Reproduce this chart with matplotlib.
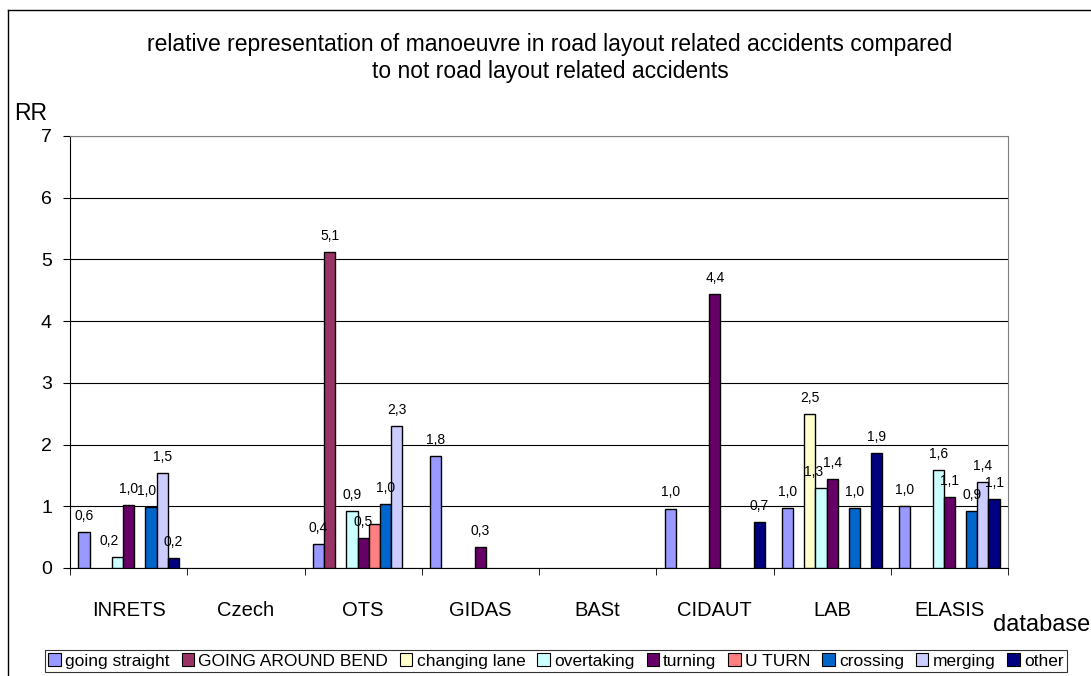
import matplotlib
matplotlib.use("Agg")
import matplotlib.pyplot as plt
from matplotlib.lines import Line2D
from matplotlib.patches import Patch
from matplotlib.transforms import offset_copy
import numpy as np

plt.rcParams['font.family'] = ['Liberation Sans', 'DejaVu Sans']

databases = ["INRETS", "Czech", "OTS", "GIDAS", "BASt", "CIDAUT", "LAB", "ELASIS"]
manoeuvres = ["going straight", "GOING AROUND BEND", "changing lane", "overtaking",
              "turning", "U TURN", "crossing", "merging", "other"]
colors = ["#9999FF", "#993366", "#FFFFCC", "#CCFFFF", "#660066",
          "#FF8080", "#0066CC", "#CCCCFF", "#000080"]

# relative representation per database (0 = not present)
going_straight = [0.58, 0, 0.39, 1.81, 0, 0.96, 0.97, 1.00]
going_around_bend = [0, 0, 5.12, 0, 0, 0, 0, 0]
changing_lane = [0, 0, 0, 0, 0, 0, 2.49, 0]
overtaking = [0.18, 0, 0.92, 0, 0, 0, 1.30, 1.59]
turning = [1.02, 0, 0.49, 0.34, 0, 4.44, 1.44, 1.15]
u_turn = [0, 0, 0.71, 0, 0, 0, 0, 0]
crossing = [0.99, 0, 1.04, 0, 0, 0, 0.97, 0.92]
merging = [1.54, 0, 2.30, 0, 0, 0, 0, 1.39]
other = [0.16, 0, 0, 0, 0, 0.74, 1.86, 1.12]

series = [going_straight, going_around_bend, changing_lane, overtaking,
          turning, u_turn, crossing, merging, other]
# series whose value labels are shown
labelled = [True, True, True, True, True, False, True, True, True]
# horizontal nudges (points) for crowded value labels: (series index, database index)
label_nudge = {(3, 0): -6, (6, 0): -3, (3, 6): -5}

W, H = 1091, 676
fig = plt.figure(figsize=(W / 100, H / 100), dpi=100)
ax = fig.add_axes([70 / W, 1 - 568 / H, 938 / W, 432 / H])

n = len(series)
bw = 1.0 / (n + 1.5)
x = np.arange(len(databases))
for i, (vals, c) in enumerate(zip(series, colors)):
    offs = -0.5 + 0.75 * bw + (i + 0.5) * bw
    for j, (xi, v) in enumerate(zip(x, vals)):
        if v <= 0:
            continue
        ax.bar(xi + offs, v, width=bw, color=c, edgecolor="black",
               linewidth=1.0, zorder=3)
        if labelled[i]:
            tr = offset_copy(ax.transData, fig=fig,
                             x=label_nudge.get((i, j), 0), y=0, units="points")
            ax.text(xi + offs, v + 0.15, f"{v:.1f}".replace(".", ","),
                    ha="center", va="bottom", fontsize=10, zorder=4,
                    transform=tr)

ax.set_xlim(-0.5, len(databases) - 0.5)
ax.set_ylim(0, 7)
ax.set_yticks(range(8))
ax.set_yticklabels([str(t) for t in range(8)], fontsize=14)
ax.yaxis.grid(True, color="black", linewidth=0.8, zorder=0)
ax.set_axisbelow(True)

ax.set_xticks(x)
ax.set_xticklabels(databases, fontsize=14.5)
ax.tick_params(axis="x", length=0, pad=24)
ax.set_xticks(np.arange(len(databases) + 1) - 0.5, minor=True)
ax.tick_params(axis="x", which="minor", length=5, direction="out", color="black")
ax.tick_params(axis="y", length=5, direction="out", pad=8)

for s in ["top", "right"]:
    ax.spines[s].set_color("#808080")
for s in ["left", "bottom"]:
    ax.spines[s].set_color("black")

fig.text(550 / W, 1 - 58 / H,
         "relative representation of manoeuvre in road layout related accidents compared\nto not road layout related accidents",
         ha="center", va="center", fontsize=16.5, linespacing=1.2)
fig.text(14 / W, 1 - 114 / H, "RR", ha="left", va="center", fontsize=16.5)
fig.text(993 / W, 1 - 625 / H, "database", ha="left", va="center", fontsize=17)

handles = [Patch(facecolor=c, edgecolor="black", linewidth=0.8) for c in colors]
leg = fig.legend(handles, manoeuvres, loc="center", ncol=9,
                 bbox_to_anchor=(556 / W, 1 - 661 / H), fontsize=12.5,
                 frameon=True, fancybox=False, edgecolor="black",
                 handlelength=0.7, handleheight=0.7, handletextpad=0.25,
                 columnspacing=0.7, borderpad=0.2, borderaxespad=0)
leg.get_frame().set_linewidth(0.8)

# outer chart border
fig.add_artist(Line2D([8 / W, 8 / W], [0, 1 - 10 / H], color="black",
                      linewidth=1.0, transform=fig.transFigure))
fig.add_artist(Line2D([8 / W, 1], [1 - 10 / H, 1 - 10 / H], color="black",
                      linewidth=1.0, transform=fig.transFigure))

fig.savefig("out.png", dpi=100, facecolor="white")
